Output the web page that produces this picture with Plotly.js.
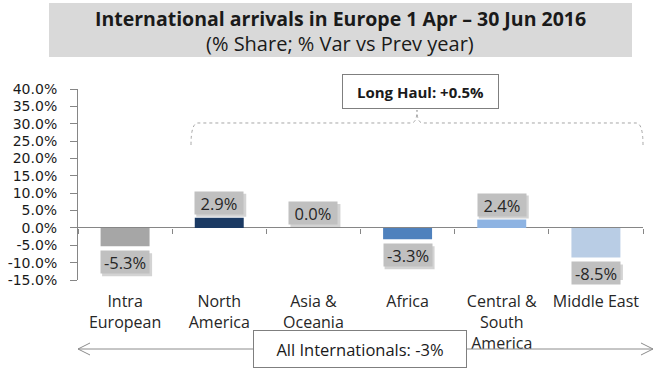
<!DOCTYPE html>
<html>
<head>
<meta charset="utf-8">
<script src="https://cdn.plot.ly/plotly-3.0.1.min.js"></script>
<style>html,body{margin:0;padding:0;background:#fff;}#chart{width:670px;height:377px;}</style>
</head>
<body>
<div id="chart"></div>
<script>
// ---- data ----
const categories = ["Intra<br>European", "North<br>America", "Asia &<br>Oceania", "Africa", "Central &<br>South<br>America", "Middle East"];
const variation = [-5.3, 2.9, 0.0, -3.3, 2.4, -8.5];            // % var vs prev year
const barColors = ["#a6a6a6", "#1b3a63", "#376092", "#4f81bd", "#8db3e2", "#b9cde5"];
const valueLabels = ["-5.3%", "2.9%", "0.0%", "-3.3%", "2.4%", "-8.5%"];
const yTickVals = [-15, -10, -5, 0, 5, 10, 15, 20, 25, 30, 35, 40];
const yTickText = ["-15.0%", "-10.0%", "-5.0%", "0.0%", "5.0%", "10.0%", "15.0%", "20.0%", "25.0%", "30.0%", "35.0%", "40.0%"];
const titleMain = "International arrivals in Europe 1 Apr \u2013 30 Jun 2016";
const titleSub = "(% Share; % Var vs Prev year)";
const longHaulText = "Long Haul: +0.5%";
const allIntlText = "All Internationals: -3%";

// ---- layout geometry ----
const W = 670, H = 377;
const M = {l: 78, r: 27, t: 89, b: 97};
const yRange = [-15, 40];
const px2x = px => (px - M.l) / (W - M.l - M.r);
const py2y = py => (H - M.b - py) / (H - M.t - M.b);
const path = pts => pts.map(p => (typeof p === "string" ? p : px2x(p[0]).toFixed(5) + "," + py2y(p[1]).toFixed(5))).join(" ");

const FONT = "'Open Sans', sans-serif";
const txtColor = "#262626";
const axisColor = "#868686";

const traces = [
  {
    type: "bar", x: categories, y: variation,
    marker: {color: barColors, line: {width: 0}},
    width: 0.52, hoverinfo: "skip", showlegend: false
  },
  { // carrier for the zero-line tick axis
    type: "scatter", mode: "markers", x: categories, y: variation.map(() => 0),
    xaxis: "x2", yaxis: "y", marker: {opacity: 0}, hoverinfo: "skip", showlegend: false
  }
];

const shapes = [
  { // title box
    type: "rect", xref: "paper", yref: "paper", layer: "below",
    x0: px2x(49), x1: px2x(632), y0: py2y(57), y1: py2y(3),
    fillcolor: "#d9d9d9", line: {width: 0}
  },
  { // long haul brace
    type: "path", xref: "paper", yref: "paper",
    path: path(["M", [191, 145], "Q", [191, 123], [198, 123], "L", [411, 123], "Q", [417, 123], [417, 110],
                "Q", [417, 123], [423, 123], "L", [636, 123], "Q", [643, 123], [643, 145]]),
    line: {color: "#a6a6a6", width: 1, dash: "dot"}
  },
  { // all-internationals arrow line
    type: "line", xref: "paper", yref: "paper",
    x0: px2x(78), x1: px2x(653), y0: py2y(349), y1: py2y(349),
    line: {color: "#8c8c8c", width: 1}
  },
  {
    type: "path", xref: "paper", yref: "paper",
    path: path(["M", [90, 343], "L", [78, 349], "L", [90, 355]]),
    line: {color: "#8c8c8c", width: 1}
  },
  {
    type: "path", xref: "paper", yref: "paper",
    path: path(["M", [641, 343], "L", [653, 349], "L", [641, 355]]),
    line: {color: "#8c8c8c", width: 1}
  }
];

const annotations = [
  {
    xref: "paper", yref: "paper", x: px2x(340), y: py2y(19), xanchor: "center", yanchor: "middle",
    text: "<b>" + titleMain + "</b>", showarrow: false,
    font: {family: FONT, size: 19.5, color: "#1a1a1a"}
  },
  {
    xref: "paper", yref: "paper", x: px2x(340), y: py2y(43), xanchor: "center", yanchor: "middle",
    text: titleSub, showarrow: false,
    font: {family: FONT, size: 20, color: "#1a1a1a"}
  }
];
variation.forEach((v, i) => {
  const shift = v < 0 ? -16 : 15;
  // soft shadow of the value-label box
  shapes.push({
    type: "rect", xref: "x", yref: "y", xsizemode: "pixel", ysizemode: "pixel",
    xanchor: i, yanchor: v, x0: -23, x1: 27, y0: shift - 14, y1: shift + 9,
    fillcolor: "rgba(110,110,110,0.3)", line: {width: 0}, layer: "above"
  });
  annotations.push({
    x: categories[i], y: v, xref: "x", yref: "y", xanchor: "center", yanchor: "middle",
    text: valueLabels[i], showarrow: false,
    yshift: shift, width: 46, height: 20, borderpad: 1,
    bgcolor: "#c0c0c0", font: {family: FONT, size: 16.5, color: txtColor}
  });
});
annotations.push({
  xref: "paper", yref: "paper", x: px2x(420.5), y: py2y(91.5), xanchor: "center", yanchor: "middle",
  text: "<b>" + longHaulText + "</b>",
  showarrow: false, width: 153, height: 31, borderpad: 1, bgcolor: "#ffffff",
  bordercolor: "#7f7f7f", borderwidth: 1, font: {family: FONT, size: 15, color: "#1a1a1a"}
});
annotations.push({
  xref: "paper", yref: "paper", x: px2x(360), y: py2y(349), xanchor: "center", yanchor: "middle",
  text: allIntlText,
  showarrow: false, width: 210, height: 34, borderpad: 1, bgcolor: "#ffffff",
  bordercolor: "#7f7f7f", borderwidth: 1, font: {family: FONT, size: 16.5, color: "#1a1a1a"}
});

const layout = {
  width: W, height: H, margin: M,
  paper_bgcolor: "#ffffff", plot_bgcolor: "rgba(0,0,0,0)",
  showlegend: false,
  xaxis: {
    type: "category", showline: false, ticks: "", showgrid: false, zeroline: false,
    tickfont: {family: FONT, size: 16, color: txtColor}, ticklabelstandoff: 10,
    range: [-0.5, 5.5], fixedrange: true
  },
  xaxis2: {
    type: "category", overlaying: "x", anchor: "free",
    position: (0 - yRange[0]) / (yRange[1] - yRange[0]),
    showline: false, showgrid: false, zeroline: false, showticklabels: false,
    ticks: "outside", ticklen: 5, tickcolor: axisColor, tickwidth: 1,
    tickson: "boundaries", range: [-0.5, 5.5], fixedrange: true
  },
  yaxis: {
    range: yRange, tickvals: yTickVals, ticktext: yTickText,
    showline: true, linecolor: axisColor, linewidth: 1,
    ticks: "outside", ticklen: 7, tickcolor: axisColor, ticklabelstandoff: 10,
    showgrid: false, zeroline: true, zerolinecolor: axisColor, zerolinewidth: 1,
    tickfont: {family: "'DejaVu Sans', sans-serif", size: 14, color: "#1a1a1a"},
    fixedrange: true
  },
  annotations: annotations,
  shapes: shapes
};

Plotly.newPlot("chart", traces, layout, {displayModeBar: false, staticPlot: true});
</script>
</body>
</html>
